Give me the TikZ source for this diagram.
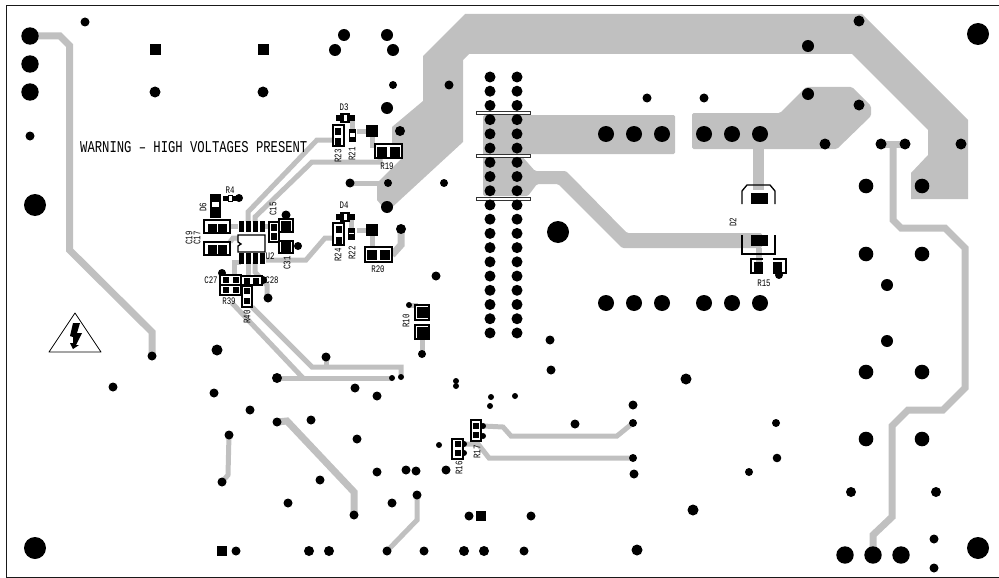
\documentclass[tikz,border=0pt]{standalone}
\usepackage{fontspec}
\newfontfamily\silkfont[FakeStretch=0.74]{Liberation Mono}
\definecolor{copper}{HTML}{C0C0C0}
\begin{document}
\begin{tikzpicture}[
                x=1pt, y=-1pt,
                every node/.style={font=\silkfont},
                pour/.style={fill=copper, draw=none},
                track/.style={draw=copper, line width=5pt, miter limit=4},
                heavytrack/.style={draw=copper, line width=7pt},
                hole/.style={fill=black},
                pad/.style={rectangle, fill=black, inner sep=0pt},
                padbox/.style={draw=black, line width=1.3pt, fill=white},
                outline/.style={draw=black, line width=1.3pt},
                slot/.style={draw=black!80, line width=0.8pt, fill=white},
                silk/.style={font=\silkfont\fontsize{10}{10}\selectfont, inner sep=0pt},
                silkup/.style={silk, rotate=90}
            ]
                \useasboundingbox (0,0) rectangle (999,578);

                % Board edge
                \draw[black!90, line width=1pt] (999,6) -- (6.5,6) -- (6.5,577) -- (999,577);

                % Copper pours
                \fill[pour] (465,14) -- (862,14) -- (968,120) -- (968,199) -- (911,199) -- (911,173)
                    -- (928,155) -- (928,130) -- (852,54) -- (469,54) -- (463,60) -- (463,142)
                    -- (387,212) -- (377,200) -- (377,183) -- (402,158) -- (402,143) -- (392,143)
                    -- (392,127) -- (423,101) -- (423,56) -- cycle;
                \fill[pour, rounded corners=1.5pt] (483,115) -- (675,115) -- (675,154) -- (520,154)
                    -- (535,171) -- (566,171) -- (627,233) -- (762,233) -- (762,248) -- (622,248)
                    -- (558,184) -- (537,184) -- (528,196) -- (483,196) -- cycle;
                \fill[pour, rounded corners=1.5pt] (692,113) -- (780,113) -- (806,87) -- (852,87)
                    -- (871,106) -- (871,116) -- (837,149) -- (692,149) -- cycle;
                \fill[pour] (753,149) rectangle (764,190);
                \fill[pour] (756,248) rectangle (762,262);

                % Heavy tracks
                \draw[heavytrack] (30,36) -- (60,36) -- (69.5,45.5) -- (69.5,250) -- (152,332) -- (152,356);
                \draw[heavytrack] (881,144) -- (905,144);
                \draw[heavytrack] (893,144) -- (893,220) -- (901,228) -- (945,228) -- (965,248)
                    -- (965,388) -- (943,410) -- (908,410) -- (892,426) -- (892,517) -- (873,535) -- (873,547);
                \draw[heavytrack] (277,422) -- (287,421) -- (354,492) -- (354,515);

                % Signal tracks
                \draw[track] (229,435) -- (228,475) -- (222,482);
                \draw[track] (417,495) -- (417,520) -- (387,551);
                \draw[track] (483,426) -- (503,427) -- (511,436) -- (617,436) -- (633,423);
                \draw[track] (464,444) -- (478,444) -- (489,458) -- (633,458);
                \draw[track] (248,222) -- (248,212) -- (317,140) -- (333,140);
                \draw[track] (255,222) -- (255,217) -- (312,162) -- (380,162) -- (380,155);
                \draw[track] (350,183) -- (380,183);
                \draw[track] (252,307) -- (312,367) -- (401,367) -- (401,377);
                \draw[track] (326,357) -- (326,367);
                \draw[track] (232,303) -- (303,378);
                \draw[track] (277,378) -- (392,378);
                \draw[track] (230,226) -- (238,226);
                \draw[track] (230,242) -- (233,238) -- (238,238);
                \draw[track] (262,226) -- (270,226);
                \draw[track] (266,260) -- (306,260) -- (325,238) -- (333,238);
                \draw[track] (241,262) -- (234,262) -- (234,280);
                \draw[track] (248,262) -- (248,282);
                \draw[track] (255,262) -- (255,272) -- (265,283) -- (267,285) -- (267,298);
                \draw[track] (352,118) -- (352,132);
                \draw[track] (357,131) -- (372,131) -- (372,148);
                \draw[track] (351,217) -- (351,233);
                \draw[track] (357,230) -- (372,230) -- (372,250);
                \draw[heavytrack] (392,255) -- (401,245) -- (401,229);
                \draw[track] (409,305) -- (418,305);
                \draw[track] (422,338) -- (422,354);
                \draw[track] (758,262) -- (758,266);

                % Connector slots
                \foreach \y in {113,156,198.5} {
                    \draw[slot] (476,\y-1.6) rectangle (530,\y+1.6);
                }

                % Connector header
                \foreach \i in {0,...,18} {
                    \fill[hole] (490,77+\i*14.22) circle (5.5pt);
                    \fill[hole] (517,77+\i*14.22) circle (5.5pt);
                }

                % Mounting holes
                \foreach \x/\y in {978/34,35/205,558/232,35/548,978/548} {
                    \fill[hole] (\x,\y) circle (11pt);
                }

                % Terminal rows
                \foreach \x/\y in {30/36,30/64,30/92,845/555,873/555,901/555} {
                    \fill[hole] (\x,\y) circle (8.7pt);
                }
                \foreach \x in {606,634,662,704,732,760} {
                    \fill[hole] (\x,134) circle (8pt);
                    \fill[hole] (\x,303) circle (8pt);
                }
                \foreach \x/\y in {866/186,922/186,866/254,922/254,866/372,922/372,866/439,922/439} {
                    \fill[hole] (\x,\y) circle (7.3pt);
                }

                % Vias
                \foreach \x/\y/\r in {
                    887/285/6, 887/341/6, 881/144/5.5, 905/144/5.5, 961/144/5.5, 859/21/5.5,
                    808/46/6, 808/94/6, 859/105/5.5, 825/144/5.5, 704/98/4.5, 647/98/4.5,
                    776/423/4, 777/458/4.3, 749/472/4, 686/379/5.5, 693/510/5.5, 851/492/5,
                    936/492/5, 934/539/4.5, 934/568/4.5, 449/85/4.5, 444/183/4, 85/22/4.5,
                    344/35/6, 335/50/6, 387/35/6, 393/50/6, 155/92/5.5, 263/92/5.5, 30/136/4.5,
                    393/85/4, 387/108/6, 400/131/5, 350/183/4.5, 388/183/4, 387/207/6,
                    239/198/4, 286/215/4.5, 298/246/4, 401/229/5, 222/273/4, 268/298/4.5,
                    263/280/4, 217/350/5.5, 326/357/4.5, 277/378/5, 355/388/4.5, 392/378/3,
                    401/377/3, 409/305/3, 422/354/4, 436/276/4.5, 152/356/4.5, 113/387/4.5,
                    214/393/4.5, 250/410/4.5, 277/422/4.5, 311/420/4.5, 229/435/4.5, 222/482/4.5,
                    320/480/4.5, 288/503/4.5, 377/396/4.5, 357/439/4.5, 377/472/4.5, 406/470/4.5,
                    416/471/4.5, 392/503/4.5, 354/515/4.5, 417/495/4.5, 387/551/4.5, 236/551/4.5,
                    309/551/5, 329/551/5, 456/381/3, 456/386/3, 491/397/3, 515/396/3, 490/406/3,
                    633/405/4.5, 575/424/4.5, 633/423/4, 633/458/4, 634/474/4.5, 439/445/3,
                    446/470/4.5, 469/516/4.5, 531/516/4.5, 424/551/4.5, 464/551/5, 484/551/5,
                    524/551/4.5, 637/550/5.5, 550/340/4.5, 551/370/4.5, 483/426/3, 483/436/3,
                    464/444/3, 464/453/3, 779/275/4} {
                    \fill[hole] (\x,\y) circle (\r pt);
                }

                % Square pads
                \foreach \x/\y/\s in {155/50/11, 263/50/11, 372/131/12, 372/230/12, 222/551/10, 481/516/9.5} {
                    \node[pad, minimum size=\s pt] (sq\x) at (\x,\y) {};
                }

                % Part outlines
                \draw[padbox] (333,125) rectangle (344,146);
                \draw[padbox] (333,223) rectangle (344,245);
                \draw[padbox] (375,144) rectangle (402,158);
                \draw[padbox] (365,247) rectangle (392,262);
                \draw[padbox] (204,220) rectangle (230,233);
                \draw[padbox] (204,242) rectangle (230,255);
                \draw[padbox] (269,222) rectangle (279,242);
                \draw[padbox] (279,219) rectangle (293,232);
                \draw[padbox] (279,241) rectangle (293,253);
                \draw[padbox] (220,275) rectangle (241,285);
                \draw[padbox] (220,285) rectangle (241,295);
                \draw[padbox] (241,276) rectangle (262,285);
                \draw[padbox] (242,286) rectangle (252,307);
                \draw[padbox] (415,305) rectangle (429,320);
                \draw[padbox] (415,325) rectangle (429,339);
                \draw[padbox] (471,420) rectangle (481,441);
                \draw[padbox] (452,439) rectangle (463,459);
                \draw[outline] (742,204) -- (742,191) -- (747,185) -- (770,185) -- (775,191) -- (775,204);
                \draw[outline] (742,235) -- (742,254) -- (775,254) -- (775,235);
                \draw[outline] (763,259) -- (751,259) -- (751,273) -- (763,273);
                \draw[outline] (773,259) -- (786,259) -- (786,273) -- (773,273);

                % Pads
                \foreach \x/\y/\w/\h in {
                    338/131/6/7, 338/141/6/7, 339/229/6/7, 339/240/6/7,
                    382/152/10/10, 395/152/10/10, 372/255/10/10, 385/255/10/10,
                    212/228/9/9, 222/228/9/9, 212/249/9/9, 222/249/9/9,
                    274/227/6/7, 274/236/6/7, 285.5/226/10/10, 285.5/247/10/10,
                    226/280/6/6, 236/280/6/6, 226/290/6/6, 236/290/6/6,
                    247/281/6/6, 256/281/6/6, 247/291/6/6, 247/301/6/6,
                    422/312/11/11, 422/332/11/11, 476/426/6/6, 476/435/6/6,
                    458/444/6/6, 458/453/6/6, 759/198/17/11, 759/240/17/11,
                    758.5/267/9/10, 777.5/267/9/10,
                    241/226.5/5/11, 248/226.5/5/11, 255/226.5/5/11, 262/226.5/5/11,
                    241/258.5/5/11, 248/258.5/5/11, 255/258.5/5/11, 262/258.5/5/11,
                    338/118/5/6, 352.5/118/5/6, 338/217/5/6, 352.5/217/5/6,
                    225.5/198/5/5, 235/198/4/5} {
                    \node[pad, minimum width=\w pt, minimum height=\h pt] at (\x,\y) {};
                }

                % Small parts
                \fill[black] (340,113) rectangle (350,122.5);
                \fill[white] (344,115) rectangle (347,120.5);
                \fill[black] (340,212) rectangle (350,221.5);
                \fill[white] (344,214) rectangle (347,219.5);
                \fill[black] (349,129) rectangle (356,142);
                \fill[white] (350,133) rectangle (355,137);
                \fill[black] (347.5,228) rectangle (354.5,240);
                \fill[white] (348.5,232.5) rectangle (353.5,234);
                \fill[black] (210,194) rectangle (221,218);
                \fill[white] (212,202) rectangle (219,207);
                \draw[black, fill=white, line width=0.8pt] (228,195) rectangle (232.5,201);

                % U2 body
                \draw[padbox] (238,235) -- (265,235) -- (265,252) -- (238,252) -- (238,246) -- (241,244) -- (238,242) -- cycle;

                % Warning sign
                \draw[black, line width=0.8pt, line join=round, fill=white] (75,313) -- (101,352) -- (49,352) -- cycle;
                \fill[black] (73,323) -- (80,323) -- (77,333) -- (82,333) -- (76,345) -- (79,345) -- (73,349)
                    -- (70,343) -- (73,343) -- (73,337) -- (70,336) -- cycle;

                % Labels
                \node[silk, font=\silkfont\fontsize{16.5}{16.5}\selectfont, anchor=west] (warntext) at (80,147) {WARNING – HIGH VOLTAGES PRESENT};
                \foreach \name/\x/\y in {
                    D3/344/107, D4/344/205, R4/230/190, R19/387/166, R20/378/269, C27/211/280,
                    C28/272/280, R39/229/301, U2/270/256, R15/764/283} {
                    \node[silk] (lbl\name) at (\x,\y) {\name};
                }
                \foreach \name/\x/\y in {
                    D6/203/207, C19/189/238, C17/197/238, C15/273/209, C31/287/263, R23/338/156,
                    R21/352/154, R24/338/255, R22/352/253, R40/247/317, R10/406/321, R16/459/468,
                    R17/477/452, D2/733/222} {
                    \node[silkup] (lbl\name) at (\x,\y) {\name};
                }
            \end{tikzpicture}
\end{document}
